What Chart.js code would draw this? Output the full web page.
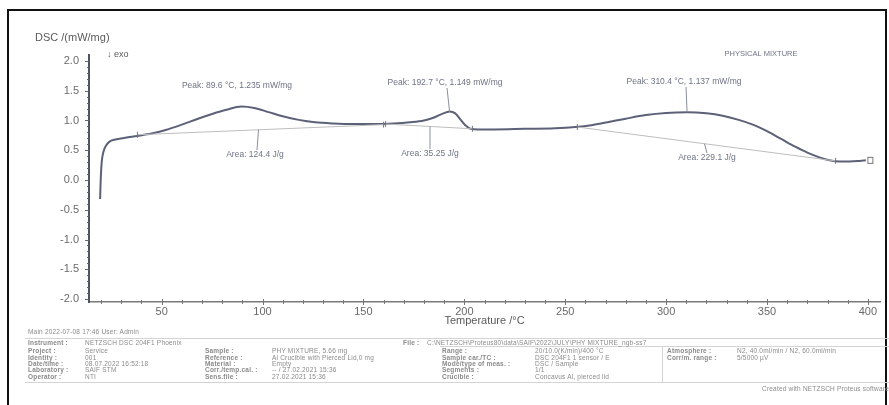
<!DOCTYPE html>
<html lang="en">
<head>
<meta charset="UTF-8">
<title>DSC - Physical mixture</title>
<script src="https://cdn.jsdelivr.net/npm/chart.js"></script>
<style>
*{margin:0;padding:0;box-sizing:border-box;}
body{width:889px;height:405px;overflow:hidden;background:#fff;font-family:'Liberation Sans',Arial,sans-serif;position:relative;}
.frame{position:absolute;left:7px;top:9px;width:880px;height:430px;border:2px solid #111;}
#dsc{position:absolute;left:0;top:0;}
.ft{position:absolute;font-size:6.5px;color:#8a8a8a;white-space:nowrap;line-height:7px;letter-spacing:.2px;}
.hl{position:absolute;height:1px;background:#d4d4d4;}
.vl{position:absolute;width:1px;background:#d4d4d4;}
</style>
</head>
<body>
<div class="frame"></div>
<canvas id="dsc" width="889" height="330"></canvas>
<div id="foot"></div>

<script>
// measured curve (temperature in °C, DSC in mW/mg)
const temps=[19.5,19.8,20.3,21.2,22.5,24,27,32,38,45,52,60,68,75,82,89.6,96,103,110,118,126,135,145,155,165,173,180,185,189,192.7,195.5,198,200.5,203,207,215,230,245,255,263,271,280,290,300,310.4,320,328,336,343,350,357,364,370,376,381,386,391,396,399];
const dsc=[-0.32,0.0,0.3,0.48,0.58,0.64,0.68,0.71,0.74,0.78,0.84,0.93,1.03,1.11,1.18,1.235,1.21,1.14,1.07,1.01,0.97,0.95,0.94,0.94,0.95,0.97,1.0,1.05,1.11,1.149,1.12,1.02,0.92,0.86,0.85,0.85,0.86,0.87,0.89,0.92,0.97,1.03,1.09,1.125,1.137,1.12,1.08,1.01,0.93,0.82,0.69,0.56,0.46,0.38,0.33,0.31,0.31,0.32,0.33];

// integration baselines
const base1T=[38,160], base1V=[0.76,0.93];
const base2T=[161,204], base2V=[0.94,0.86];
const base3T=[256,384], base3V=[0.89,0.32];

const peakT=[89.6,192.7,310.4];
const peakV=[1.235,1.149,1.137];
const peakText=['Peak: 89.6 °C, 1.235 mW/mg','Peak: 192.7 °C, 1.149 mW/mg','Peak: 310.4 °C, 1.137 mW/mg'];
const areaText=['Area: 124.4 J/g','Area: 35.25 J/g','Area: 229.1 J/g'];
const areaAtT=[98,183,319];

const xTicks=[50,100,150,200,250,300,350,400];
const yTicks=[-2.0,-1.5,-1.0,-0.5,0.0,0.5,1.0,1.5,2.0];

const pts=(t,v)=>t.map((x,i)=>({x:x,y:v[i]}));
function interp(t,v,x){const f=(x-t[0])/(t[1]-t[0]);return v[0]+f*(v[1]-v[0]);}

const annot={
  id:'annot',
  afterDraw(chart){
    const c=chart.ctx, xs=chart.scales.x, ys=chart.scales.y;
    const X=v=>xs.getPixelForValue(v), Y=v=>ys.getPixelForValue(v);
    c.save();
    // minor / major ticks
    c.strokeStyle='#777';c.lineWidth=1;
    for(let t=20;t<=400;t+=10){
      const px=Math.round(X(t))+0.5, major=t%50===0;
      c.beginPath();c.moveTo(px,ys.bottom-(major?3:2));c.lineTo(px,ys.bottom+(major?3:2));c.stroke();
    }
    c.strokeStyle='#666';
    for(let k=-20;k<=20;k++){
      const py=Math.round(Y(k/10))+0.5, major=k%5===0;
      c.beginPath();c.moveTo(xs.left-(major?4:2),py);c.lineTo(xs.left,py);c.stroke();
    }
    // texts
    c.fillStyle='#6e7384';c.font='8.5px "Liberation Sans", Arial, sans-serif';
    c.textAlign='center';c.textBaseline='middle';
    const peakPos=[[237,86],[445,83],[684,82]];
    const areaPos=[[255,155],[430,154],[707,158]];
    c.strokeStyle='#8a8e9c';c.lineWidth=1;
    peakText.forEach((s,i)=>{
      c.fillText(s,peakPos[i][0],peakPos[i][1]);
      if(i>0){c.beginPath();c.moveTo(peakPos[i][0]+2,peakPos[i][1]+5);c.lineTo(X(peakT[i]),Y(peakV[i]));c.stroke();}
    });
    const bases=[[base1T,base1V],[base2T,base2V],[base3T,base3V]];
    areaText.forEach((s,i)=>{
      c.fillText(s,areaPos[i][0],areaPos[i][1]);
      const bx=X(areaAtT[i]), by=Y(interp(bases[i][0],bases[i][1],areaAtT[i]));
      c.beginPath();c.moveTo(areaPos[i][0]+(i===0?2:0),areaPos[i][1]-5);c.lineTo(bx,by);c.stroke();
    });
    c.font='7.5px "Liberation Sans", Arial, sans-serif';
    c.fillText('PHYSICAL MIXTURE',761,54);
    c.fillStyle='#5a5a5a';c.font='11px "Liberation Sans", Arial, sans-serif';c.textAlign='left';
    c.fillText('DSC /(mW/mg)',35,38);
    c.font='9px "Liberation Sans", Arial, sans-serif';
    c.fillText('\u2193 exo',107,55);
    // segment end marker
    c.strokeStyle='#777';
    c.strokeRect(X(399)+2,Y(0.33)-3,5,6);
    c.restore();
  }
};

new Chart(document.getElementById('dsc'),{
  type:'line',
  data:{datasets:[
    {data:pts(base1T,base1V),borderColor:'#bdbdbd',borderWidth:1,pointStyle:'line',rotation:90,pointRadius:3,pointBorderColor:'#777',pointBorderWidth:1},
    {data:pts(base2T,base2V),borderColor:'#bdbdbd',borderWidth:1,pointStyle:'line',rotation:90,pointRadius:3,pointBorderColor:'#777',pointBorderWidth:1},
    {data:pts(base3T,base3V),borderColor:'#bdbdbd',borderWidth:1,pointStyle:'line',rotation:90,pointRadius:3,pointBorderColor:'#777',pointBorderWidth:1},
    {data:pts(temps,dsc),borderColor:'#5c6178',borderWidth:2,pointRadius:0,cubicInterpolationMode:'monotone'}
  ]},
  options:{
    responsive:false,animation:false,devicePixelRatio:1,
    layout:{padding:{top:55,right:9,left:0,bottom:0}},
    plugins:{legend:{display:false},tooltip:{enabled:false}},
    scales:{
      x:{type:'linear',min:14,max:406,
        afterBuildTicks:s=>{s.ticks=xTicks.map(v=>({value:v}));},
        afterFit:s=>{s.height=28;},
        grid:{display:false,drawTicks:false,tickLength:0},
        border:{display:true,color:'#7a7a7a',width:1.5},
        ticks:{color:'#6a6a6a',padding:3,font:{family:'Liberation Sans',size:11}},
        title:{display:true,text:'Temperature /°C',color:'#5a5a5a',padding:{top:0,bottom:2},font:{family:'Liberation Sans',size:11}}
      },
      y:{min:-2.05,max:2.1,
        afterBuildTicks:s=>{s.ticks=yTicks.map(v=>({value:v}));},
        afterFit:s=>{s.width=89;},
        grid:{display:false,drawTicks:false,tickLength:0},
        border:{display:true,color:'#4e5266',width:2},
        ticks:{color:'#6a6a6a',padding:10,font:{family:'Liberation Sans',size:11},callback:v=>v.toFixed(1)}
      }
    }
  },
  plugins:[annot]
});

// footer table of the measurement report
const rowsY=[342,350,357,363,369,376];
const col1L=['Instrument :','Project :','Identity :','Date/time :','Laboratory :','Operator :'];
const col1V=['NETZSCH DSC 204F1 Phoenix','Service','001','08.07.2022 16:52:18','SAIF STM','NTI'];
const col2L=['Sample :','Reference :','Material :','Corr./temp.cal. :','Sens.file :'];
const col2V=['PHY MIXTURE, 5.66 mg','Al Crucible with Pierced Lid,0 mg','Empty','-- / 27.02.2021 15:36','27.02.2021 15:36'];
const col3L=['Range :','Sample car./TC :','Mode/type of meas. :','Segments :','Crucible :'];
const col3V=['20/10.0(K/min)/400 °C','DSC 204F1 1 sensor / E','DSC / Sample','1/1','Concavus Al, pierced lid'];
const col4L=['Atmosphere :','Corr/m. range :'];
const col4V=['N2, 40.0ml/min / N2, 60.0ml/min','5/5000 µV'];

const foot=document.getElementById('foot');
function put(txt,x,y,extra){const d=document.createElement('div');d.className='ft';d.textContent=txt;d.style.left=x+'px';d.style.top=(y-3.5)+'px';if(extra)d.style.cssText+=extra;foot.appendChild(d);}
function line(cls,x,y,w,h){const d=document.createElement('div');d.className=cls;d.style.left=x+'px';d.style.top=y+'px';if(w)d.style.width=w+'px';if(h)d.style.height=h+'px';foot.appendChild(d);}
put('Main   2022-07-08 17:46    User: Admin',28,331);
line('hl',25,338,864);line('hl',440,346,449);line('hl',25,382,864);line('vl',662,346,0,36);
col1L.forEach((s,i)=>{put(s,28,rowsY[i],'font-weight:bold');put(col1V[i],85,rowsY[i]);});
col2L.forEach((s,i)=>{put(s,205,rowsY[i+1],'font-weight:bold');put(col2V[i],272,rowsY[i+1]);});
put('File :',403,rowsY[0],'font-weight:bold');
put('C:\\NETZSCH\\Proteus80\\data\\SAIF\\2022\\JULY\\PHY MIXTURE_ngb-ss7',427,rowsY[0]);
col3L.forEach((s,i)=>{put(s,442,rowsY[i+1],'font-weight:bold');put(col3V[i],535,rowsY[i+1]);});
col4L.forEach((s,i)=>{put(s,667,rowsY[i+1],'font-weight:bold');put(col4V[i],737,rowsY[i+1]);});
put('Created with NETZSCH Proteus software',762,388);
</script>
</body>
</html>
